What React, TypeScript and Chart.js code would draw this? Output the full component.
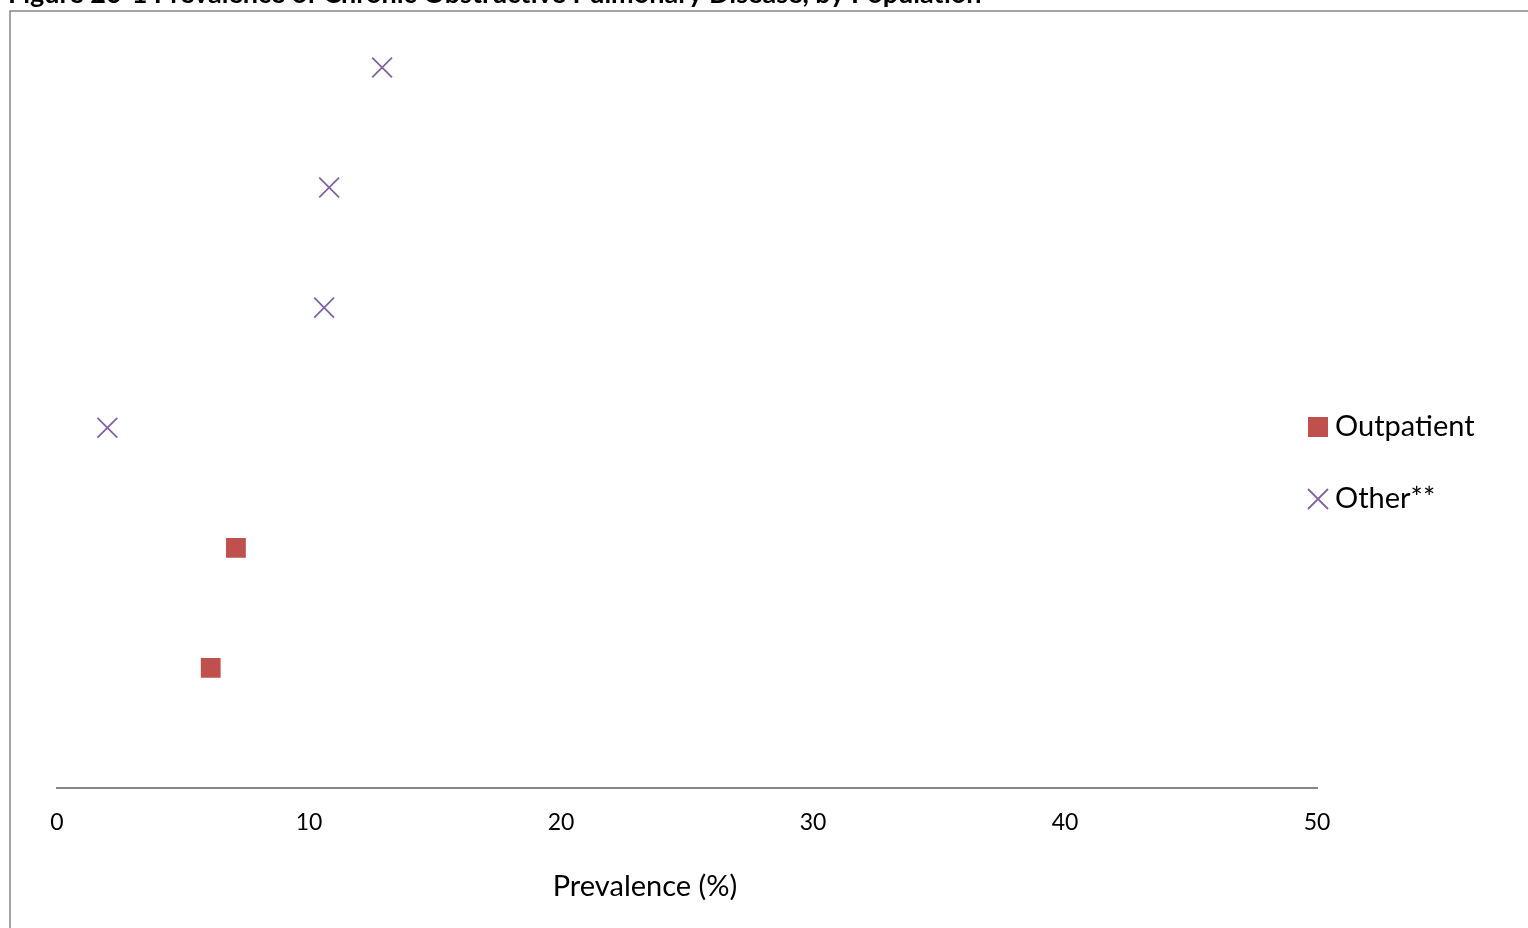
import React, { useEffect, useRef } from "react";
import { Chart, registerables } from "chart.js";

Chart.register(...registerables);

const chartTitle = "Figure 20-1 Prevalence of Chronic Obstructive Pulmonary Disease, by Population";
const xAxisTitle = "Prevalence (%)";
const xTicks = [0, 10, 20, 30, 40, 50];
const seriesNames = ["Outpatient", "Other**"];
const outpatientX = [6.1, 7.1];
const outpatientY = [1, 2];
const otherX = [2.0, 10.6, 10.8, 12.9];
const otherY = [3, 4, 5, 6];

const RED = "#C0504D";
const PURPLE = "#8064A2";
const FONT = "Lato, 'Liberation Sans', sans-serif";

const decorPlugin = {
  id: "decor",
  afterDraw(chart: any) {
    const ctx = chart.ctx;
    ctx.save();
    // outer border
    ctx.strokeStyle = "#868686";
    ctx.lineWidth = 1.5;
    ctx.strokeRect(10, 11, 1700, 1100);
    // title (cut off at top)
    ctx.fillStyle = "#000";
    ctx.font = `bold 27px ${FONT}`;
    ctx.textBaseline = "alphabetic";
    ctx.textAlign = "left";
    ctx.fillText(chartTitle, 8, 3, 980);
    // axis title
    ctx.font = `29px ${FONT}`;
    ctx.textAlign = "center";
    ctx.textBaseline = "middle";
    ctx.fillText(xAxisTitle, 645, 887);
    // legend
    const items = chart.data.datasets;
    items.forEach((ds: any, i: number) => {
      const cy = 427 + i * 72;
      const cx = 1318;
      ctx.fillStyle = ds.backgroundColor;
      ctx.strokeStyle = ds.borderColor;
      ctx.lineWidth = ds.borderWidth;
      if (ds.pointStyle === "rect") {
        ctx.fillRect(cx - 10, cy - 10, 20, 20);
      } else {
        ctx.beginPath();
        ctx.moveTo(cx - 10, cy - 10);
        ctx.lineTo(cx + 10, cy + 10);
        ctx.moveTo(cx + 10, cy - 10);
        ctx.lineTo(cx - 10, cy + 10);
        ctx.stroke();
      }
      ctx.fillStyle = "#000";
      ctx.font = `29px ${FONT}`;
      ctx.textAlign = "left";
      ctx.textBaseline = "middle";
      ctx.fillText(ds.label, 1335, cy);
    });
    ctx.restore();
  },
};

export default function App() {
  const ref = useRef<HTMLCanvasElement>(null);
  useEffect(() => {
    document.body.style.margin = "0";
    const chart = new Chart(ref.current!, {
      type: "scatter",
      data: {
        datasets: [
          {
            label: seriesNames[0],
            data: outpatientX.map((x, i) => ({ x, y: outpatientY[i] })),
            pointStyle: "rect",
            pointRadius: 14,
            backgroundColor: RED,
            borderColor: RED,
            borderWidth: 0,
          },
          {
            label: seriesNames[1],
            data: otherX.map((x, i) => ({ x, y: otherY[i] })),
            pointStyle: "crossRot",
            pointRadius: 14,
            backgroundColor: PURPLE,
            borderColor: PURPLE,
            borderWidth: 1.8,
          },
        ],
      },
      options: {
        animation: false,
        responsive: false,
        devicePixelRatio: 1,
        layout: { padding: { left: 57, right: 211, top: 8, bottom: 0 } },
        plugins: { legend: { display: false }, tooltip: { enabled: false } },
        scales: {
          x: {
            type: "linear",
            min: 0,
            max: 50,
            afterBuildTicks: (s: any) => {
              s.ticks = xTicks.map((v) => ({ value: v }));
            },
            afterFit: (s: any) => {
              s.height = 140;
            },
            grid: { display: false, drawTicks: false },
            border: { display: true, color: "#868686", width: 2 },
            ticks: {
              padding: 21,
              color: "#000",
              font: { family: FONT, size: 23 },
              maxRotation: 0,
            },
          },
          y: {
            type: "linear",
            min: 0,
            max: 6.43,
            display: false,
          },
        },
      },
      plugins: [decorPlugin],
    });
    return () => chart.destroy();
  }, []);
  return (
    <div style={{ position: "fixed", left: 0, top: 0, width: 1528, height: 928, background: "#fff" }}>
      <canvas ref={ref} width={1528} height={928} style={{ width: 1528, height: 928 }} />
    </div>
  );
}
